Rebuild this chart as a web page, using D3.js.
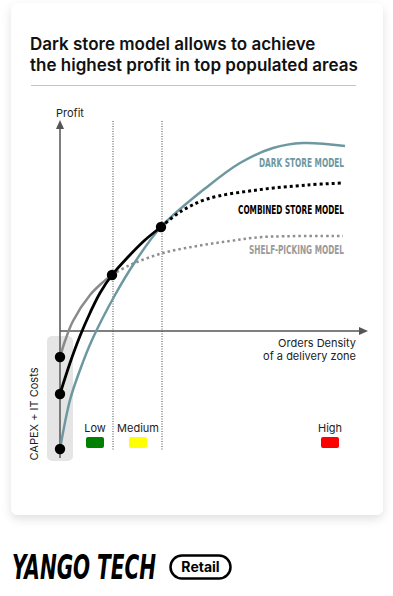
<!DOCTYPE html>
<html>
<head>
<meta charset="utf-8">
<script src="https://cdn.jsdelivr.net/npm/d3@7"></script>
<style>
  body { margin: 0; background: #fff; }
  svg { display: block; font-family: Inter, "Noto Sans", sans-serif; }
</style>
</head>
<body>
<div id="chart"></div>
<script>
// data (x = orders density, y = profit)
const darkStore = [[0, -11.8], [1, -6.9], [2, -3.9], [3.2, -0.9], [5.5, 3.6], [7.5, 6.9], [10.1, 10.4],
  [14.7, 14.4], [18, 16.8], [21.3, 18.3], [24.3, 18.8], [28.5, 18.5]];
const combinedSolid = [[0, -6.3], [1, -3.2], [2, -0.5], [3, 1.8], [4, 3.8], [5.2, 5.6], [6.8, 7.4], [8.5, 9.1], [10.1, 10.4]];
const combinedDotted = [[10.1, 10.4], [12, 11.9], [14.7, 13.2], [19.7, 14.1], [24.7, 14.6], [28.3, 14.8]];
const shelfSolid = [[0, -2.6], [0.5, -1.0], [1.3, 1.0], [3.0, 3.6], [4.2, 4.8], [5.2, 5.6]];
const shelfDotted = [[5.2, 5.6], [7, 6.6], [10.3, 7.8], [13.7, 8.5], [17, 9.0], [20.3, 9.4], [28.3, 9.5]];
const keyPoints = [[0, -2.6], [0, -6.3], [0, -11.8], [5.2, 5.6], [10.1, 10.4]];
const zoneBounds = [5.3, 10.2];
const densityLevels = ["Low", "Medium", "High"];
const densityPos = [3.5, 7.8, 27.0];
const densityColors = ["#008000", "#ffff00", "#ff0000"];
const seriesLabels = ["DARK STORE MODEL", "COMBINED STORE MODEL", "SHELF-PICKING MODEL"];
const seriesLabelY = [16.4, 11.7, 7.7];

const width = 393, height = 596;
const svg = d3.select("#chart").append("svg").attr("width", width).attr("height", height);

// card shadow
const defs = svg.append("defs");
const f = defs.append("filter").attr("id", "shadow").attr("x", "-10%").attr("y", "-10%").attr("width", "120%").attr("height", "120%");
f.append("feDropShadow").attr("dx", 0).attr("dy", 4).attr("stdDeviation", 5).attr("flood-color", "#000").attr("flood-opacity", 0.12);

svg.append("rect").attr("x", 11).attr("y", 3).attr("width", 372).attr("height", 512)
  .attr("rx", 7).attr("fill", "#fff").attr("filter", "url(#shadow)");

// title
const title = svg.append("text").attr("x", 30).attr("font-size", 17).attr("font-weight", 600).attr("fill", "#111");
title.append("tspan").attr("x", 30).attr("y", 50).text("Dark store model allows to achieve");
title.append("tspan").attr("x", 30).attr("y", 71).text("the highest profit in top populated areas");
svg.append("line").attr("x1", 31).attr("x2", 356).attr("y1", 85.5).attr("y2", 85.5).attr("stroke", "#c4c4c4");

// scales
const x = d3.scaleLinear().domain([0, 29]).range([60, 350]);
const y = d3.scaleLinear().domain([-12, 21]).range([451, 121]);

// capex band
svg.append("rect").attr("x", x(0) - 13).attr("y", y(-0.5)).attr("width", 26).attr("height", y(-13) - y(-0.5))
  .attr("rx", 5).attr("fill", "#e5e5e5");

// zone separators
svg.append("g").selectAll("line").data(zoneBounds).join("line")
  .attr("x1", d => x(d)).attr("x2", d => x(d))
  .attr("y1", y(21)).attr("y2", y(-11.9))
  .attr("stroke", "#444").attr("stroke-width", 1).attr("stroke-dasharray", "1,1.5");

// axes with arrows
const axisColor = "#555";
svg.append("line").attr("x1", x(0)).attr("x2", x(0)).attr("y1", y(-12.7)).attr("y2", y(20.6))
  .attr("stroke", axisColor).attr("stroke-width", 1.5);
svg.append("path").attr("d", `M${x(0)},${y(21.1)} l-4,9 l8,0 z`).attr("fill", axisColor);
svg.append("line").attr("x1", x(0)).attr("x2", x(30.4)).attr("y1", y(0)).attr("y2", y(0))
  .attr("stroke", axisColor).attr("stroke-width", 1.5);
svg.append("path").attr("d", `M${x(30.8)},${y(0)} l-9,-4 l0,8 z`).attr("fill", axisColor);

svg.append("text").attr("x", 56).attr("y", 117).attr("font-size", 11).attr("fill", "#222").text("Profit");
const xl = svg.append("text").attr("text-anchor", "end").attr("font-size", 11).attr("fill", "#222");
xl.append("tspan").attr("x", 356).attr("y", 347).text("Orders Density");
xl.append("tspan").attr("x", 356).attr("y", 359.5).text("of a delivery zone");
svg.append("text").attr("transform", `translate(38,${y(-8.3)}) rotate(-90)`).attr("text-anchor", "middle")
  .attr("font-size", 11).attr("fill", "#222").text("CAPEX + IT Costs");

// curves
const line = d3.line().x(d => x(d[0])).y(d => y(d[1])).curve(d3.curveCatmullRom.alpha(0.5));
const teal = "#6e98a0";
svg.append("path").datum(shelfSolid).attr("d", line).attr("fill", "none").attr("stroke", "#8a8a8a").attr("stroke-width", 2.5);
svg.append("path").datum(shelfDotted).attr("d", line).attr("fill", "none").attr("stroke", "#8f8f8f")
  .attr("stroke-width", 2.5).attr("stroke-dasharray", "2.5,3");
svg.append("path").datum(darkStore).attr("d", line).attr("fill", "none").attr("stroke", teal).attr("stroke-width", 2.5);
svg.append("path").datum(combinedSolid).attr("d", line).attr("fill", "none").attr("stroke", "#000").attr("stroke-width", 2.8);
svg.append("path").datum(combinedDotted).attr("d", line).attr("fill", "none").attr("stroke", "#000")
  .attr("stroke-width", 3).attr("stroke-dasharray", "3,3");

svg.append("g").selectAll("circle").data(keyPoints).join("circle")
  .attr("cx", d => x(d[0])).attr("cy", d => y(d[1])).attr("r", 5.2).attr("fill", "#000");

// series labels
const labelColors = [teal, "#000", "#9a9a9a"];
const labelWidths = [85, 106, 95];
svg.append("g").selectAll("text").data(seriesLabels).join("text")
  .attr("x", (d, i) => 344 - labelWidths[i]).attr("y", (d, i) => y(seriesLabelY[i]))
  .attr("font-family", "'DejaVu Sans Condensed', 'DejaVu Sans', sans-serif")
  .attr("font-stretch", "condensed").attr("font-weight", 700).attr("font-size", 12)
  .attr("textLength", (d, i) => labelWidths[i]).attr("lengthAdjust", "spacingAndGlyphs")
  .attr("fill", (d, i) => labelColors[i]).text(d => d);

// density legend
const lg = svg.append("g").selectAll("g").data(densityLevels).join("g")
  .attr("transform", (d, i) => `translate(${x(densityPos[i])},0)`);
lg.append("text").attr("y", 432).attr("text-anchor", "middle").attr("font-size", 11).attr("fill", "#222").text(d => d);
lg.append("rect").attr("x", -9).attr("y", 437).attr("width", 18).attr("height", 11).attr("rx", 2)
  .attr("fill", (d, i) => densityColors[i]);

// brand footer - squeeze the wordmark with a scale so its box stays honest
const brand = svg.append("text").attr("font-family", "'DejaVu Sans Condensed', 'DejaVu Sans', sans-serif")
  .attr("font-weight", 700).attr("font-style", "italic").attr("font-size", 33)
  .attr("fill", "#000").text("YANGO TECH");
const brandLen = brand.node().getComputedTextLength();
brand.attr("transform", `translate(12,579) scale(${144 / brandLen},1)`);
svg.append("rect").attr("x", 170.5).attr("y", 555.5).attr("width", 60).attr("height", 23).attr("rx", 11.5)
  .attr("fill", "none").attr("stroke", "#000").attr("stroke-width", 2.5);
svg.append("text").attr("x", 200.5).attr("y", 572).attr("text-anchor", "middle").attr("font-size", 14)
  .attr("font-weight", 700).attr("fill", "#000").text("Retail");
</script>
</body>
</html>
